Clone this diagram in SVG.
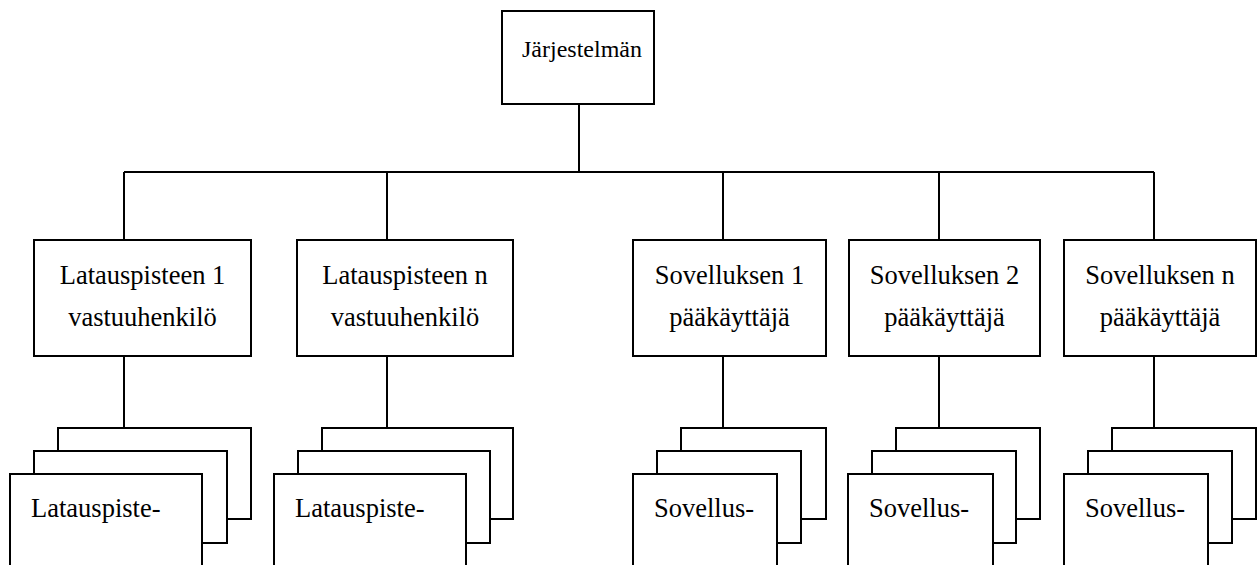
<svg xmlns="http://www.w3.org/2000/svg" width="1258" height="565" viewBox="0 0 1258 565">
<style>
.box{fill:#fff;stroke:#000;stroke-width:2}
.ln{fill:none;stroke:#000;stroke-width:2}
.t{font-family:"Liberation Serif","Times New Roman",serif;font-size:26.5px;fill:#000}
.c{text-anchor:middle}
</style>
<rect width="1258" height="565" fill="#fff"/>
<g id="connectors">
<line class="ln" x1="579" y1="104" x2="579" y2="172"/>
<line class="ln" x1="124" y1="172" x2="1154" y2="172"/>
<line class="ln" x1="124" y1="172" x2="124" y2="240"/>
<line class="ln" x1="387" y1="172" x2="387" y2="240"/>
<line class="ln" x1="723" y1="172" x2="723" y2="240"/>
<line class="ln" x1="939" y1="172" x2="939" y2="240"/>
<line class="ln" x1="1154" y1="172" x2="1154" y2="240"/>
<line class="ln" x1="124" y1="356" x2="124" y2="428"/>
<line class="ln" x1="387" y1="356" x2="387" y2="428"/>
<line class="ln" x1="723" y1="356" x2="723" y2="428"/>
<line class="ln" x1="939" y1="356" x2="939" y2="428"/>
<line class="ln" x1="1154" y1="356" x2="1154" y2="428"/>
</g>
<g id="root">
<rect class="box" x="502" y="11" width="152" height="93"/>
<text class="t" x="522" y="57" style="font-size:24px">Järjestelmän</text>
</g>
<g id="lataus1">
<rect class="box" x="34" y="240" width="217" height="116"/>
<text class="t c" x="142.5" y="284">Latauspisteen 1</text>
<text class="t c" x="142.5" y="326">vastuuhenkilö</text>
</g>
<g id="latausn">
<rect class="box" x="297" y="240" width="216" height="116"/>
<text class="t c" x="405" y="284">Latauspisteen n</text>
<text class="t c" x="405" y="326">vastuuhenkilö</text>
</g>
<g id="sovellus1">
<rect class="box" x="633" y="240" width="193" height="116"/>
<text class="t c" x="729.5" y="284">Sovelluksen 1</text>
<text class="t c" x="729.5" y="326">pääkäyttäjä</text>
</g>
<g id="sovellus2">
<rect class="box" x="849" y="240" width="191" height="116"/>
<text class="t c" x="944.5" y="284">Sovelluksen 2</text>
<text class="t c" x="944.5" y="326">pääkäyttäjä</text>
</g>
<g id="sovellusn">
<rect class="box" x="1064" y="240" width="192" height="116"/>
<text class="t c" x="1160" y="284">Sovelluksen n</text>
<text class="t c" x="1160" y="326">pääkäyttäjä</text>
</g>
<g id="lataus1-stack">
<rect class="box" x="58" y="428" width="193" height="91"/>
<rect class="box" x="34" y="451" width="193" height="92"/>
<rect class="box" x="10" y="474" width="192" height="100"/>
<text class="t" x="31" y="517">Latauspiste-</text>
</g>
<g id="latausn-stack">
<rect class="box" x="322" y="428" width="191" height="91"/>
<rect class="box" x="298" y="451" width="192" height="92"/>
<rect class="box" x="274" y="474" width="192" height="100"/>
<text class="t" x="295" y="517">Latauspiste-</text>
</g>
<g id="sovellus1-stack">
<rect class="box" x="681" y="428" width="145" height="91"/>
<rect class="box" x="657" y="451" width="144" height="92"/>
<rect class="box" x="633" y="474" width="144" height="100"/>
<text class="t" x="654" y="517">Sovellus-</text>
</g>
<g id="sovellus2-stack">
<rect class="box" x="896" y="428" width="144" height="91"/>
<rect class="box" x="872" y="451" width="144" height="92"/>
<rect class="box" x="848" y="474" width="145" height="100"/>
<text class="t" x="869" y="517">Sovellus-</text>
</g>
<g id="sovellusn-stack">
<rect class="box" x="1112" y="428" width="144" height="91"/>
<rect class="box" x="1088" y="451" width="144" height="92"/>
<rect class="box" x="1064" y="474" width="144" height="100"/>
<text class="t" x="1085" y="517">Sovellus-</text>
</g>
</svg>
